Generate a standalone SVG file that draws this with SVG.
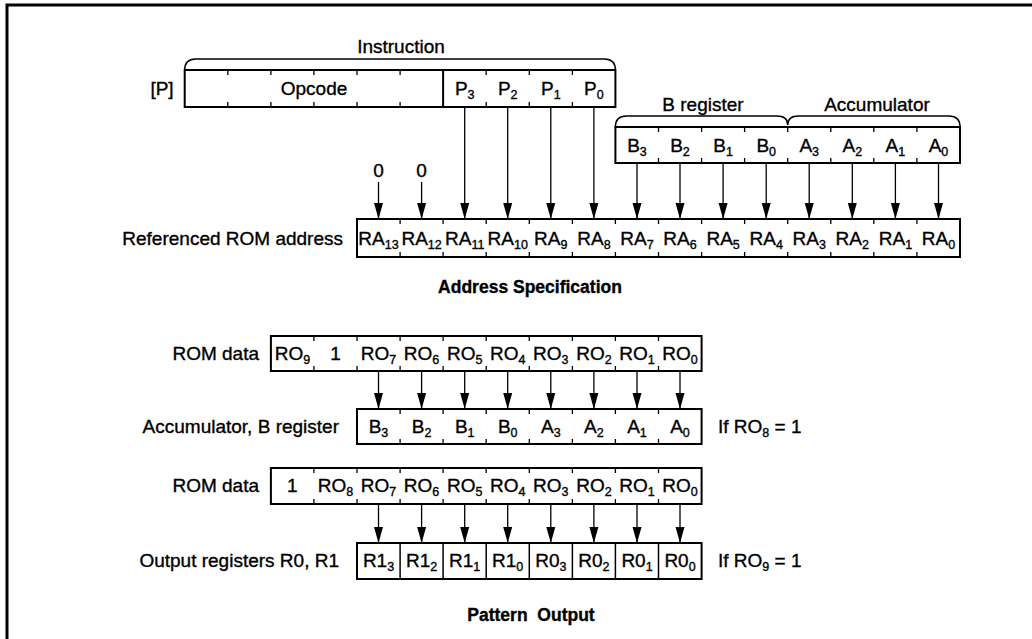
<svg xmlns="http://www.w3.org/2000/svg" width="1032" height="639" viewBox="0 0 1032 639">
<defs>
<marker id="arr" viewBox="0 -5 16 10" refX="16" refY="0" markerWidth="16" markerHeight="10" markerUnits="userSpaceOnUse" orient="auto">
<path d="M0,-4.5 L16,0 L0,4.5 Z" fill="#000"/>
</marker>
<style>
text{font-family:"Liberation Sans",Arial,Helvetica,sans-serif;font-size:19px;fill:#000;stroke:#000;stroke-width:0.35}
.c{text-anchor:middle}
.e{text-anchor:end}
.t{font-weight:bold;font-size:17.5px;text-anchor:middle}
.s{font-size:12.5px}
.box{fill:none;stroke:#000;stroke-width:2}
.tick{fill:none;stroke:#000;stroke-width:1.3}
.brace{fill:none;stroke:#000;stroke-width:1.5}
.frame{fill:none;stroke:#000;stroke-width:3}
.con line{stroke:#000;stroke-width:1.3;marker-end:url(#arr)}
</style>
</defs>
<rect width="1032" height="639" fill="#fff"/>
<path class="frame" d="M7,639 L7,5 L1032,5"/>

<g id="instruction">
<text class="c" x="401" y="53">Instruction</text>
<path class="brace" d="M184.7,70 Q184.7,59 195.7,59 L604.4,59 Q615.4,59 615.4,70"/>
<text class="c" x="162" y="95">[P]</text>
<rect class="box" x="184.7" y="70" width="430.7" height="37"/>
<line x1="443.1" y1="70" x2="443.1" y2="107" stroke="#000" stroke-width="2"/>
<path class="tick" d="M227.8,70v5M270.9,70v5M313.9,70v5M357,70v5M400.1,70v5M486.2,70v5M529.3,70v5M572.4,70v5M227.8,107v-5M270.9,107v-5M313.9,107v-5M357,107v-5M400.1,107v-5M486.2,107v-5M529.3,107v-5M572.4,107v-5"/>
<text class="c" x="314" y="95">Opcode</text>
<text class="c" x="464.7" y="95">P<tspan class="s" dy="4">3</tspan></text>
<text class="c" x="507.7" y="95">P<tspan class="s" dy="4">2</tspan></text>
<text class="c" x="550.8" y="95">P<tspan class="s" dy="4">1</tspan></text>
<text class="c" x="593.9" y="95">P<tspan class="s" dy="4">0</tspan></text>
</g>

<g id="b-accumulator">
<text class="c" x="703" y="111">B register</text>
<text class="c" x="877" y="111">Accumulator</text>
<path class="brace" d="M615.4,127 Q615.4,116 626.4,116 L776.7,116 Q787.7,116 787.7,125 Q787.7,116 798.7,116 L949,116 Q960,116 960,127"/>
<rect class="box" x="615.4" y="127" width="344.6" height="36"/>
<path class="tick" d="M658.5,127v5M701.6,127v5M744.6,127v5M787.7,127v5M830.8,127v5M873.8,127v5M916.9,127v5M658.5,163v-5M701.6,163v-5M744.6,163v-5M787.7,163v-5M830.8,163v-5M873.8,163v-5M916.9,163v-5"/>
<text class="c" x="637" y="152">B<tspan class="s" dy="4">3</tspan></text>
<text class="c" x="680" y="152">B<tspan class="s" dy="4">2</tspan></text>
<text class="c" x="723.1" y="152">B<tspan class="s" dy="4">1</tspan></text>
<text class="c" x="766.2" y="152">B<tspan class="s" dy="4">0</tspan></text>
<text class="c" x="809.2" y="152">A<tspan class="s" dy="4">3</tspan></text>
<text class="c" x="852.3" y="152">A<tspan class="s" dy="4">2</tspan></text>
<text class="c" x="895.4" y="152">A<tspan class="s" dy="4">1</tspan></text>
<text class="c" x="938.5" y="152">A<tspan class="s" dy="4">0</tspan></text>
</g>

<g id="zeros">
<text class="c" x="378.5" y="177">0</text>
<text class="c" x="421.6" y="177">0</text>
</g>

<g id="rom-address">
<text class="e" x="343" y="245">Referenced ROM address</text>
<rect class="box" x="357" y="219" width="603" height="38"/>
<path class="tick" d="M400.1,219v5M443.1,219v5M486.2,219v5M529.3,219v5M572.4,219v5M615.4,219v5M658.5,219v5M701.6,219v5M744.6,219v5M787.7,219v5M830.8,219v5M873.8,219v5M916.9,219v5M400.1,257v-5M443.1,257v-5M486.2,257v-5M529.3,257v-5M572.4,257v-5M615.4,257v-5M658.5,257v-5M701.6,257v-5M744.6,257v-5M787.7,257v-5M830.8,257v-5M873.8,257v-5M916.9,257v-5"/>
<text class="c" x="378.5" y="245">RA<tspan class="s" dy="4">13</tspan></text>
<text class="c" x="421.6" y="245">RA<tspan class="s" dy="4">12</tspan></text>
<text class="c" x="464.7" y="245">RA<tspan class="s" dy="4">11</tspan></text>
<text class="c" x="507.7" y="245">RA<tspan class="s" dy="4">10</tspan></text>
<text class="c" x="550.8" y="245">RA<tspan class="s" dy="4">9</tspan></text>
<text class="c" x="593.9" y="245">RA<tspan class="s" dy="4">8</tspan></text>
<text class="c" x="637" y="245">RA<tspan class="s" dy="4">7</tspan></text>
<text class="c" x="680" y="245">RA<tspan class="s" dy="4">6</tspan></text>
<text class="c" x="723.1" y="245">RA<tspan class="s" dy="4">5</tspan></text>
<text class="c" x="766.2" y="245">RA<tspan class="s" dy="4">4</tspan></text>
<text class="c" x="809.2" y="245">RA<tspan class="s" dy="4">3</tspan></text>
<text class="c" x="852.3" y="245">RA<tspan class="s" dy="4">2</tspan></text>
<text class="c" x="895.4" y="245">RA<tspan class="s" dy="4">1</tspan></text>
<text class="c" x="938.5" y="245">RA<tspan class="s" dy="4">0</tspan></text>
<text class="t" x="530" y="293">Address Specification</text>
</g>

<g id="rom-data-1">
<text class="e" x="259" y="360">ROM data</text>
<rect class="box" x="270.9" y="336" width="430.7" height="35"/>
<path class="tick" d="M313.9,336v5M357,336v5M400.1,336v5M443.1,336v5M486.2,336v5M529.3,336v5M572.4,336v5M615.4,336v5M658.5,336v5M313.9,371v-5M357,371v-5M400.1,371v-5M443.1,371v-5M486.2,371v-5M529.3,371v-5M572.4,371v-5M615.4,371v-5M658.5,371v-5"/>
<text class="c" x="292.4" y="360">RO<tspan class="s" dy="4">9</tspan></text>
<text class="c" x="335.5" y="360">1</text>
<text class="c" x="378.5" y="360">RO<tspan class="s" dy="4">7</tspan></text>
<text class="c" x="421.6" y="360">RO<tspan class="s" dy="4">6</tspan></text>
<text class="c" x="464.7" y="360">RO<tspan class="s" dy="4">5</tspan></text>
<text class="c" x="507.7" y="360">RO<tspan class="s" dy="4">4</tspan></text>
<text class="c" x="550.8" y="360">RO<tspan class="s" dy="4">3</tspan></text>
<text class="c" x="593.9" y="360">RO<tspan class="s" dy="4">2</tspan></text>
<text class="c" x="637" y="360">RO<tspan class="s" dy="4">1</tspan></text>
<text class="c" x="680" y="360">RO<tspan class="s" dy="4">0</tspan></text>
</g>

<g id="acc-b-register">
<text class="e" x="339" y="433">Accumulator, B register</text>
<rect class="box" x="357" y="409" width="344.6" height="35"/>
<path class="tick" d="M400.1,409v5M443.1,409v5M486.2,409v5M529.3,409v5M572.4,409v5M615.4,409v5M658.5,409v5M400.1,444v-5M443.1,444v-5M486.2,444v-5M529.3,444v-5M572.4,444v-5M615.4,444v-5M658.5,444v-5"/>
<text class="c" x="378.5" y="433">B<tspan class="s" dy="4">3</tspan></text>
<text class="c" x="421.6" y="433">B<tspan class="s" dy="4">2</tspan></text>
<text class="c" x="464.7" y="433">B<tspan class="s" dy="4">1</tspan></text>
<text class="c" x="507.7" y="433">B<tspan class="s" dy="4">0</tspan></text>
<text class="c" x="550.8" y="433">A<tspan class="s" dy="4">3</tspan></text>
<text class="c" x="593.9" y="433">A<tspan class="s" dy="4">2</tspan></text>
<text class="c" x="637" y="433">A<tspan class="s" dy="4">1</tspan></text>
<text class="c" x="680" y="433">A<tspan class="s" dy="4">0</tspan></text>
<text x="718" y="433">If RO<tspan class="s" dy="4">8</tspan><tspan dy="-4"> = 1</tspan></text>
</g>

<g id="rom-data-2">
<text class="e" x="259" y="492">ROM data</text>
<rect class="box" x="270.9" y="468" width="430.7" height="36"/>
<path class="tick" d="M313.9,468v5M357,468v5M400.1,468v5M443.1,468v5M486.2,468v5M529.3,468v5M572.4,468v5M615.4,468v5M658.5,468v5M313.9,504v-5M357,504v-5M400.1,504v-5M443.1,504v-5M486.2,504v-5M529.3,504v-5M572.4,504v-5M615.4,504v-5M658.5,504v-5"/>
<text class="c" x="292.4" y="492">1</text>
<text class="c" x="335.5" y="492">RO<tspan class="s" dy="4">8</tspan></text>
<text class="c" x="378.5" y="492">RO<tspan class="s" dy="4">7</tspan></text>
<text class="c" x="421.6" y="492">RO<tspan class="s" dy="4">6</tspan></text>
<text class="c" x="464.7" y="492">RO<tspan class="s" dy="4">5</tspan></text>
<text class="c" x="507.7" y="492">RO<tspan class="s" dy="4">4</tspan></text>
<text class="c" x="550.8" y="492">RO<tspan class="s" dy="4">3</tspan></text>
<text class="c" x="593.9" y="492">RO<tspan class="s" dy="4">2</tspan></text>
<text class="c" x="637" y="492">RO<tspan class="s" dy="4">1</tspan></text>
<text class="c" x="680" y="492">RO<tspan class="s" dy="4">0</tspan></text>
</g>

<g id="output-registers">
<text class="e" x="339" y="567">Output registers R0, R1</text>
<rect class="box" x="357" y="543" width="344.6" height="36"/>
<path d="M400.1,543V579M443.1,543V579M486.2,543V579M529.3,543V579M572.4,543V579M615.4,543V579M658.5,543V579" stroke="#000" stroke-width="1.5" fill="none"/>
<text class="c" x="378.5" y="567">R1<tspan class="s" dy="4">3</tspan></text>
<text class="c" x="421.6" y="567">R1<tspan class="s" dy="4">2</tspan></text>
<text class="c" x="464.7" y="567">R1<tspan class="s" dy="4">1</tspan></text>
<text class="c" x="507.7" y="567">R1<tspan class="s" dy="4">0</tspan></text>
<text class="c" x="550.8" y="567">R0<tspan class="s" dy="4">3</tspan></text>
<text class="c" x="593.9" y="567">R0<tspan class="s" dy="4">2</tspan></text>
<text class="c" x="637" y="567">R0<tspan class="s" dy="4">1</tspan></text>
<text class="c" x="680" y="567">R0<tspan class="s" dy="4">0</tspan></text>
<text x="718" y="567">If RO<tspan class="s" dy="4">9</tspan><tspan dy="-4"> = 1</tspan></text>
<text class="t" x="531" y="621">Pattern&#160; Output</text>
</g>

<g id="connectors" class="con">
<line x1="464.7" y1="107" x2="464.7" y2="219"/>
<line x1="507.7" y1="107" x2="507.7" y2="219"/>
<line x1="550.8" y1="107" x2="550.8" y2="219"/>
<line x1="593.9" y1="107" x2="593.9" y2="219"/>
<line x1="378.5" y1="182" x2="378.5" y2="219"/>
<line x1="421.6" y1="182" x2="421.6" y2="219"/>
<line x1="637" y1="163" x2="637" y2="219"/>
<line x1="680" y1="163" x2="680" y2="219"/>
<line x1="723.1" y1="163" x2="723.1" y2="219"/>
<line x1="766.2" y1="163" x2="766.2" y2="219"/>
<line x1="809.2" y1="163" x2="809.2" y2="219"/>
<line x1="852.3" y1="163" x2="852.3" y2="219"/>
<line x1="895.4" y1="163" x2="895.4" y2="219"/>
<line x1="938.5" y1="163" x2="938.5" y2="219"/>
<line x1="378.5" y1="371" x2="378.5" y2="409"/>
<line x1="421.6" y1="371" x2="421.6" y2="409"/>
<line x1="464.7" y1="371" x2="464.7" y2="409"/>
<line x1="507.7" y1="371" x2="507.7" y2="409"/>
<line x1="550.8" y1="371" x2="550.8" y2="409"/>
<line x1="593.9" y1="371" x2="593.9" y2="409"/>
<line x1="637" y1="371" x2="637" y2="409"/>
<line x1="680" y1="371" x2="680" y2="409"/>
<line x1="378.5" y1="504" x2="378.5" y2="543"/>
<line x1="421.6" y1="504" x2="421.6" y2="543"/>
<line x1="464.7" y1="504" x2="464.7" y2="543"/>
<line x1="507.7" y1="504" x2="507.7" y2="543"/>
<line x1="550.8" y1="504" x2="550.8" y2="543"/>
<line x1="593.9" y1="504" x2="593.9" y2="543"/>
<line x1="637" y1="504" x2="637" y2="543"/>
<line x1="680" y1="504" x2="680" y2="543"/>
</g>
</svg>
